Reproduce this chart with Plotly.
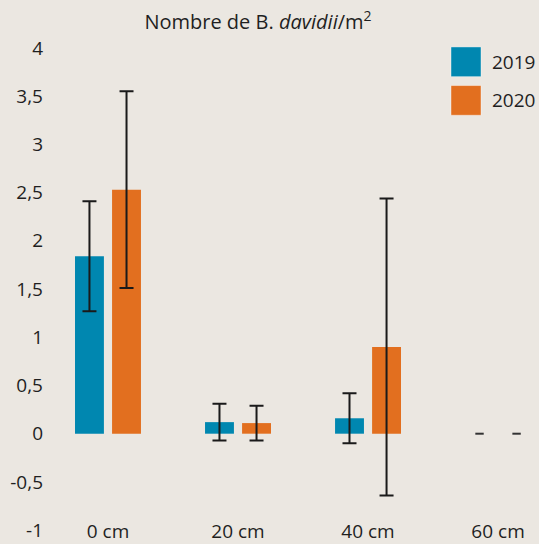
import plotly.graph_objects as go

categories = ["0 cm", "20 cm", "40 cm", "60 cm"]
series_names = ["2019", "2020"]
values_2019 = [1.84, 0.12, 0.16, None]
values_2020 = [2.53, 0.11, 0.90, None]
err_2019 = [0.57, 0.19, 0.26, None]
err_2020 = [1.02, 0.18, 1.54, None]
dash_2019 = [None, None, None, 0]
dash_2020 = [None, None, None, 0]
tick_vals = [-1, -0.5, 0, 0.5, 1, 1.5, 2, 2.5, 3, 3.5, 4]
tick_text = ["-1", "-0,5", "0", "0,5", "1", "1,5", "2", "2,5", "3", "3,5", "4"]

BG = "#ebe7e1"
BLUE = "#0087b0"
ORANGE = "#e26f1f"
TXT = "#1f1f1f"
FONT = "Open Sans"
FS = 19

fig = go.Figure()
for name, vals, errs, col in [("2019", values_2019, err_2019, BLUE),
                              ("2020", values_2020, err_2020, ORANGE)]:
    fig.add_trace(go.Bar(
        x=categories, y=vals, name=name, marker_color=col,
        marker_line_width=0, showlegend=False,
        error_y=dict(type="data", array=errs, visible=True,
                     color="#1a1a1a", thickness=2, width=7),
    ))
for name, vals in [("2019", dash_2019), ("2020", dash_2020)]:
    fig.add_trace(go.Scatter(
        x=categories, y=vals, mode="markers", showlegend=False,
        marker=dict(symbol="line-ew", size=6, line=dict(width=2, color="#333333")),
        hoverinfo="skip",
    ))

# legend drawn as large squares
L, T, B = 50, 42, 0
W, H = 539 - L, 544 - T - B
def px_x(p): return (p - L) / W
def px_y(p): return (544 - B - p) / H

for i, (name, col) in enumerate(zip(series_names, [BLUE, ORANGE])):
    y0 = 47 + i * 39
    fig.add_shape(type="rect", xref="paper", yref="paper",
                  x0=px_x(451), x1=px_x(481), y0=px_y(y0 + 30), y1=px_y(y0),
                  fillcolor=col, line=dict(width=1, color="rgba(255,255,255,0.4)"))
    fig.add_annotation(text=name, xref="paper", yref="paper",
                       x=px_x(490), y=px_y(y0 + 15), xanchor="left", yanchor="middle",
                       showarrow=False, font=dict(size=FS, color=TXT, family=FONT))

fig.update_layout(
    width=539, height=544,
    margin=dict(l=L, r=0, t=T, b=B),
    paper_bgcolor=BG, plot_bgcolor=BG,
    font=dict(family=FONT, size=FS, color=TXT),
    barmode="group", bargap=0.43, bargroupgap=0.22,
    scattermode="group", scattergap=0.43,
    title=dict(text="Nombre de B. <i>davidii</i>/m<sup>2</sup>",
               x=258 / 539, xanchor="center", xref="container",
               y=1 - 22 / 544, yanchor="middle", yref="container",
               font=dict(size=20, color=TXT, family=FONT)),
    xaxis=dict(range=[-0.446, 3.315], showgrid=False, zeroline=False,
               showline=False, ticks="", ticklabelposition="inside",
               ticklabeloverflow="allow", ticklabelstandoff=-6,
               tickfont=dict(size=FS, color=TXT)),
    yaxis=dict(range=[-1.092, 4.062], tickvals=tick_vals, ticktext=tick_text,
               showgrid=False, zeroline=False, showline=False, ticks="",
               ticklabeloverflow="allow",
               ticklabelstandoff=6, tickfont=dict(size=FS, color=TXT)),
)

fig.write_html("out.html", config={"displayModeBar": False},
               post_script="document.body.style.margin='0';document.body.style.overflow='hidden';")
